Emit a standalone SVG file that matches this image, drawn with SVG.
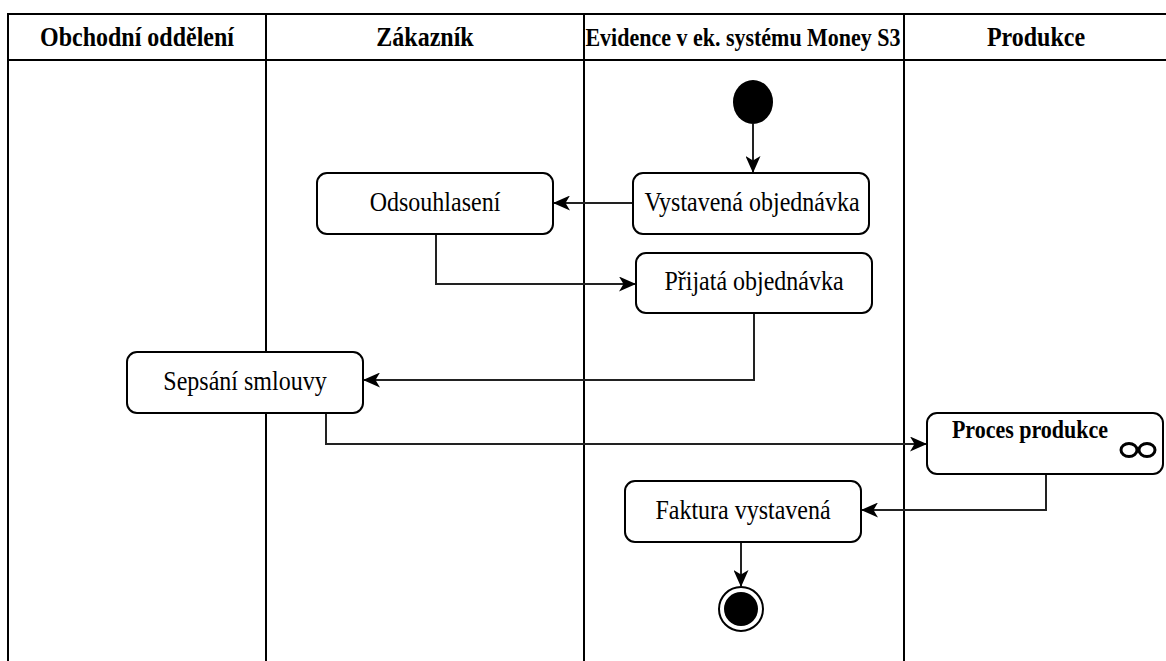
<svg xmlns="http://www.w3.org/2000/svg" width="1166" height="661" viewBox="0 0 1166 661">
  <style>
    .lane { fill: none; stroke: #000; stroke-width: 2; }
    .hdr { font-family: "Liberation Serif", "Times New Roman", serif; font-weight: bold; font-size: 24px; fill: #000; text-anchor: middle; }
    .act { fill: #fff; stroke: #000; stroke-width: 2; }
    .lbl { font-family: "Liberation Serif", "Times New Roman", serif; font-size: 24px; fill: #000; text-anchor: middle; }
    .flow { fill: none; stroke: #222; stroke-width: 2; }
  </style>
  <defs>
    <marker id="arrow" markerUnits="userSpaceOnUse" markerWidth="17" markerHeight="15" viewBox="0 0 17 15" refX="16" refY="7.5" orient="auto">
      <path d="M0,0 L17,7.5 L0,15 L4.5,7.5 Z" fill="#000"/>
    </marker>
  </defs>

  <rect width="1166" height="661" fill="#fff"/>

  <!-- swimlane frame -->
  <g id="lanes">
    <path class="lane" d="M8,661 V14 H1166 M8,60 H1166 M266,14 V661 M584,14 V661 M904,14 V661"/>
    <text class="hdr" transform="translate(137,46) scale(1,1.1)">Obchodní oddělení</text>
    <text class="hdr" transform="translate(425,46) scale(1,1.1)">Zákazník</text>
    <text class="hdr" style="font-size:22px" transform="translate(743,46) scale(1,1.12)">Evidence v ek. systému Money S3</text>
    <text class="hdr" transform="translate(1036,46) scale(1,1.1)">Produkce</text>
  </g>

  <!-- control flow -->
  <g id="connectors">
    <path class="flow" d="M753,124 V172" marker-end="url(#arrow)"/>
    <path class="flow" d="M633,203 H554" marker-end="url(#arrow)"/>
    <path class="flow" d="M436,234 V284 H635" marker-end="url(#arrow)"/>
    <path class="flow" d="M754,313 V380 H364" marker-end="url(#arrow)"/>
    <path class="flow" d="M326,413 V444 H926" marker-end="url(#arrow)"/>
    <path class="flow" d="M1046,474 V510 H862" marker-end="url(#arrow)"/>
    <path class="flow" d="M741,542 V586" marker-end="url(#arrow)"/>
  </g>

  <g id="start">
    <ellipse cx="753" cy="102" rx="20" ry="22" fill="#000"/>
  </g>

  <g id="vystavena">
    <rect class="act" x="633" y="173" width="236" height="61" rx="10"/>
    <text class="lbl" transform="translate(752,211) scale(1,1.1)">Vystavená objednávka</text>
  </g>

  <g id="odsouhlaseni">
    <rect class="act" x="317" y="173" width="236" height="61" rx="10"/>
    <text class="lbl" transform="translate(435,211) scale(1,1.1)">Odsouhlasení</text>
  </g>

  <g id="prijata">
    <rect class="act" x="636" y="253" width="236" height="60" rx="10"/>
    <text class="lbl" transform="translate(754,290) scale(1,1.1)">Přijatá objednávka</text>
  </g>

  <g id="sepsani">
    <rect class="act" x="127" y="352" width="236" height="61" rx="10"/>
    <text class="lbl" transform="translate(245,390) scale(1,1.1)">Sepsání smlouvy</text>
  </g>

  <g id="proces">
    <rect class="act" x="927" y="413" width="236" height="61" rx="10"/>
    <text class="lbl" style="font-weight:bold;font-size:22px" transform="translate(1030,438) scale(1,1.1)">Proces produkce</text>
    <!-- looping activity symbol -->
    <ellipse cx="1129" cy="450" rx="8" ry="6.5" fill="none" stroke="#000" stroke-width="3"/>
    <ellipse cx="1147" cy="450" rx="8" ry="6.5" fill="none" stroke="#000" stroke-width="3"/>
  </g>

  <g id="faktura">
    <rect class="act" x="625" y="481" width="236" height="61" rx="10"/>
    <text class="lbl" transform="translate(743,519) scale(1,1.1)">Faktura vystavená</text>
  </g>

  <g id="end">
    <circle cx="741" cy="609" r="22" fill="#fff" stroke="#000" stroke-width="2"/>
    <circle cx="741" cy="609" r="17" fill="#000"/>
  </g>
</svg>
